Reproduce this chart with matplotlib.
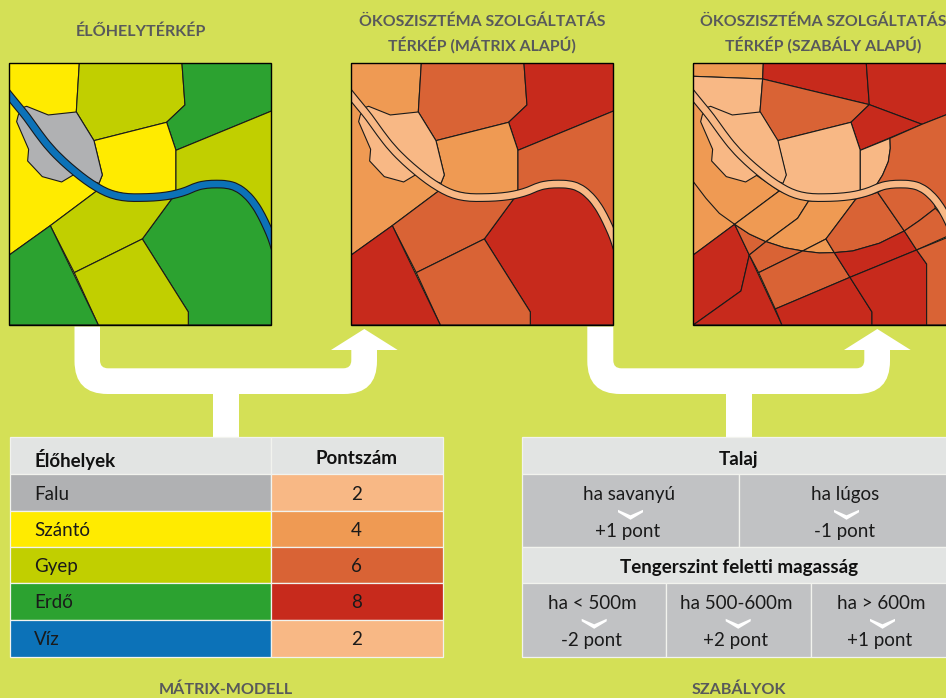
import matplotlib
matplotlib.use("Agg")
import matplotlib.pyplot as plt
from matplotlib.patches import Polygon, Rectangle, PathPatch
from matplotlib.path import Path

# map shapes (3x zoom pixels of each frame)
fields = [
    ("Szántó", [(28, 25), (238, 25), (229, 171), (300, 380), (290, 408), (151, 512), (28, 600)]),
    ("Gyep", [(238, 25), (546, 25), (555, 150), (500, 202), (282, 257), (229, 171)]),
    ("Erdő", [(546, 25), (815, 25), (815, 168), (528, 286), (500, 202), (555, 150)]),
    ("Szántó", [(282, 257), (500, 202), (528, 286), (528, 420), (420, 428), (290, 397), (297, 385), (307, 360)]),
    ("Gyep", [(528, 286), (815, 168), (815, 560), (740, 410), (640, 390), (528, 420)]),
    ("Erdő", [(515, 432), (600, 400), (650, 390), (720, 410), (770, 465), (815, 570), (815, 810), (565, 810), (565, 771), (427, 552)]),
    ("Gyep", [(290, 408), (420, 428), (515, 432), (427, 552), (223, 653), (151, 512)]),
    ("Gyep", [(223, 653), (427, 552), (565, 771), (565, 810), (295, 810)]),
    ("Erdő", [(28, 600), (151, 512), (295, 810), (28, 810)]),
]
village = [(80, 154), (145, 180), (229, 171), (282, 257), (307, 360), (297, 385), (220, 360), (185, 381),
           (127, 365), (83, 318), (86, 283), (50, 200), (55, 180), (68, 158)]
river = [(20, 112), (28, 122), (55, 155), (80, 185), (115, 235), (150, 280), (190, 320), (225, 350), (258, 376),
         (290, 397), (320, 413), (350, 423), (385, 428), (420, 428), (460, 427), (500, 423), (530, 417), (560, 408),
         (590, 394), (620, 388), (650, 387), (680, 388), (710, 396), (740, 418), (765, 448), (785, 482),
         (802, 518), (815, 548), (825, 580)]

rule_fields = [
    (4, [(22, 25), (232, 25), (230, 72), (22, 64)]),
    (8, [(232, 25), (541, 25), (550, 149), (230, 72)]),
    (8, [(541, 25), (815, 25), (815, 166), (708, 208), (550, 149)]),
    (2, [(22, 64), (230, 72), (222, 171), (290, 385), (100, 210), (22, 122)]),
    (6, [(230, 72), (550, 149), (495, 202), (275, 257), (222, 171)]),
    (8, [(550, 149), (708, 208), (523, 286), (495, 202)]),
    (2, [(275, 257), (495, 202), (523, 286), (523, 415), (370, 428), (280, 400), (300, 360)]),
    (2, [(523, 286), (612, 250), (613, 280), (607, 320), (590, 360), (570, 392), (523, 415)]),
    (6, [(612, 250), (708, 208), (815, 166), (815, 560), (740, 418), (680, 388), (620, 388), (570, 392), (590, 360), (607, 320), (613, 280)]),
    (4, [(22, 130), (100, 225), (210, 360), (280, 408), (146, 508), (22, 600)]),
    (8, [(22, 600), (146, 508), (190, 600), (165, 708), (22, 810)]),
    (8, [(22, 810), (165, 708), (190, 600), (288, 810)]),
    (6, [(146, 508), (190, 537), (240, 560), (190, 600)]),
    (4, [(146, 508), (280, 408), (368, 438), (335, 490), (240, 560), (190, 537)]),
    (4, [(368, 438), (510, 432), (420, 552), (350, 588), (295, 578), (240, 560), (335, 490)]),
    (4, [(420, 552), (445, 593), (400, 594), (350, 588)]),
    (6, [(190, 600), (240, 560), (295, 578), (350, 588), (218, 653)]),
    (6, [(218, 653), (350, 588), (400, 594), (445, 593), (492, 667), (268, 762)]),
    (8, [(268, 762), (492, 667), (558, 771), (558, 810), (288, 810)]),
    (6, [(510, 432), (575, 412), (655, 528), (580, 565), (500, 588), (445, 593), (420, 552)]),
    (8, [(445, 593), (500, 588), (580, 565), (655, 528), (692, 585), (492, 667)]),
    (8, [(492, 667), (692, 585), (722, 627), (722, 810), (558, 810), (558, 771)]),
    (6, [(575, 412), (620, 388), (680, 388), (740, 418), (748, 460), (700, 497), (655, 528)]),
    (6, [(655, 528), (700, 497), (748, 460), (815, 530), (692, 585)]),
    (6, [(692, 585), (815, 535), (815, 810), (722, 810), (722, 627)]),
]
big_arc = [(22, 380), (60, 430), (100, 475), (146, 508)]

habitats = ["Falu", "Szántó", "Gyep", "Erdő", "Víz"]
scores = [2, 4, 6, 8, 2]
habitat_colors = ["#b0b1b3", "#ffeb00", "#c1cf00", "#2ca230", "#0c72b8"]
score_colors = {2: "#f8b885", 4: "#ef9a53", 6: "#d96335", 8: "#c72a1c"}

map_titles = ["ÉLŐHELYTÉRKÉP", "ÖKOSZISZTÉMA SZOLGÁLTATÁS\nTÉRKÉP (MÁTRIX ALAPÚ)",
              "ÖKOSZISZTÉMA SZOLGÁLTATÁS\nTÉRKÉP (SZABÁLY ALAPÚ)"]
soil_rules = [("ha savanyú", "+1 pont"), ("ha lúgos", "-1 pont")]
height_rules = [("ha < 500m", "-2 pont"), ("ha 500-600m", "+2 pont"), ("ha > 600m", "+1 pont")]

BG = "#d4e056"
GREY = "#58595b"
HEAD = "#e2e4e3"
CELL = "#c1c2c4"
TEXT_SIZE = 13.5
plt.rcParams["font.family"] = ["Lato", "DejaVu Sans"]

fig = plt.figure(figsize=(9.46, 6.98), dpi=100, facecolor=BG)
ax = fig.add_axes([0, 0, 1, 1])
ax.set_xlim(0, 946)
ax.set_ylim(698, 0)
ax.axis("off")

FRAME_Y = 63.3
FRAME_SIZE = 262


def to_px(points, left, origin):
    return [(left + (x - origin) / 3, FRAME_Y + (y - 25) / 3) for x, y in points]


def smooth_line(xy, color, w, frame, z=2):
    # read points act as control points of quadratic curves
    verts = [xy[0]]
    codes = [Path.MOVETO]
    for a, b in zip(xy[1:-1], xy[2:]):
        verts += [a, ((a[0] + b[0]) / 2, (a[1] + b[1]) / 2)]
        codes += [Path.CURVE3, Path.CURVE3]
    verts.append(xy[-1])
    codes.append(Path.LINETO)
    p = PathPatch(Path(verts, codes), fc="none", ec=color, lw=w, zorder=z, capstyle="butt", joinstyle="round")
    ax.add_patch(p)
    p.set_clip_path(frame)


def draw_map(left, shapes, origin, village_color, river_color):
    frame = Rectangle((left, FRAME_Y), FRAME_SIZE, FRAME_SIZE, fc="none", ec="none")
    ax.add_patch(frame)
    for color, pts in shapes:
        p = Polygon(to_px(pts, left, origin), fc=color, ec="#1a1a1a", lw=0.8, joinstyle="round")
        ax.add_patch(p)
        p.set_clip_path(frame)
    p = Polygon(to_px(village, left, 28), fc=village_color, ec="#1a1a1a", lw=0.8, joinstyle="round", zorder=1.8)
    ax.add_patch(p)
    xy = to_px(river, left, 28)
    smooth_line(xy, "#1a1a1a", 6.3, frame, 2)
    smooth_line(xy, river_color, 4.7, frame, 2.1)
    return frame


def draw_frame(left):
    ax.add_patch(Rectangle((left, FRAME_Y), FRAME_SIZE, FRAME_SIZE, fc="none", ec="black", lw=1.0, zorder=5))


hab_color = dict(zip(habitats, habitat_colors))
hab_score = dict(zip(habitats, scores))

map_left = [9.3, 351.3, 693.3]
draw_map(map_left[0], [(hab_color[h], pts) for h, pts in fields], 28, hab_color["Falu"], hab_color["Víz"])
draw_map(map_left[1], [(score_colors[hab_score[h]], pts) for h, pts in fields], 28,
         score_colors[hab_score["Falu"]], score_colors[hab_score["Víz"]])
frame3 = draw_map(map_left[2], [(score_colors[s], pts) for s, pts in rule_fields], 22,
                  score_colors[2], score_colors[2])
arc = to_px(big_arc, map_left[2], 22)
arc_line, = ax.plot([a for a, b in arc], [b for a, b in arc], color="#1a1a1a", lw=0.8, zorder=1.5)
arc_line.set_clip_path(frame3)
for left in map_left:
    draw_frame(left)


def connector(x0, x1, x2, x3, head0, head1, tip, top_from, stem_left):
    # white U shaped band with arrow head and a stem coming up from the table
    y_top, y_bot = 368.3, 394
    r_out, r_in = 33, 8
    verts = [(x0, top_from), (x1, top_from), (x1, y_top - r_in), (x1, y_top), (x1 + r_in, y_top),
             (x2 - r_in, y_top), (x2, y_top), (x2, y_top - r_in), (x2, 350), (head0, 350), (tip, 329), (head1, 350),
             (x3, 350), (x3, y_bot - r_out), (x3, y_bot), (x3 - r_out, y_bot),
             (stem_left + 26, y_bot), (stem_left + 26, 437.5), (stem_left, 437.5), (stem_left, y_bot),
             (x0 + r_out, y_bot), (x0, y_bot), (x0, y_bot - r_out), (x0, top_from)]
    L, Q = Path.LINETO, Path.CURVE3
    codes = [Path.MOVETO, L, L, Q, Q, L, Q, Q, L, L, L, L, L, L, Q, Q, L, L, L, L, L, Q, Q, L]
    ax.add_patch(PathPatch(Path(verts, codes), fc="white", ec="none", zorder=3))


connector(74.5, 100, 351.3, 377, 331, 397.7, 364.3, 326.5, 213)
connector(587.3, 613.3, 864.3, 890, 844, 910.7, 877.3, 326.5, 726)

# titles
ax.text(140.5, 32, map_titles[0], ha="center", va="center", color=GREY, fontsize=11.6, fontweight="bold")
for x, title in zip((482, 823), map_titles[1:]):
    ax.text(x, 34, title, ha="center", va="center", color=GREY, fontsize=11.4, fontweight="bold",
            linespacing=1.5)
ax.text(226, 690, "MÁTRIX-MODELL", ha="center", va="center", color=GREY, fontsize=11.6, fontweight="bold")
ax.text(738.7, 690, "SZABÁLYOK", ha="center", va="center", color=GREY, fontsize=11.6, fontweight="bold")

# left table
row_y = [437.3, 474.3, 510.7, 546.7, 583.3, 619.7, 656.7]
col_x = [9.5, 271.3, 442.5]


def cell(x0, x1, y0, y1, color):
    ax.add_patch(Rectangle((x0, y0), x1 - x0, y1 - y0, fc=color, ec="#f2f3ee", lw=0.9, zorder=3))


cell(col_x[0], col_x[1], row_y[0], row_y[1], HEAD)
cell(col_x[1], col_x[2], row_y[0], row_y[1], HEAD)
ax.text(34, 459, "Élőhelyek", va="center", fontsize=TEXT_SIZE, fontweight="bold", color="#111111", zorder=4)
ax.text(356.7, 459, "Pontszám", ha="center", va="center", fontsize=TEXT_SIZE, fontweight="bold", color="#111111", zorder=4)
for i, (name, score, color) in enumerate(zip(habitats, scores, habitat_colors)):
    cell(col_x[0], col_x[1], row_y[i + 1], row_y[i + 2], color)
    cell(col_x[1], col_x[2], row_y[i + 1], row_y[i + 2], score_colors[score])
    ym = (row_y[i + 1] + row_y[i + 2]) / 2 + 1.5
    ax.text(34, ym, name, va="center", fontsize=TEXT_SIZE, color="#1a1a1a", zorder=4)
    ax.text(356.7, ym, str(score), ha="center", va="center", fontsize=TEXT_SIZE, color="#1a1a1a", zorder=4)

# right table
right_x0, right_x1 = 522.3, 955
right_mid = 738.7
splits = [666.3, 810.7]


def chevron(x, y):
    pts = [(x - 12.5, y - 5), (x, y + 0.5), (x + 12.5, y - 5), (x + 12.5, y - 2.5), (x, y + 5), (x - 12.5, y - 2.5)]
    ax.add_patch(Polygon(pts, fc="white", ec="none", zorder=4))


def rule_cell(x0, x1, y0, y1, x, lines):
    cell(x0, x1, y0, y1, CELL)
    ax.text(x, y0 + 20, lines[0], ha="center", va="center", fontsize=TEXT_SIZE, color="#1a1a1a", zorder=4)
    chevron(x + 1.5, y0 + 40.5)
    ax.text(x - 1, y0 + 57, lines[1], ha="center", va="center", fontsize=TEXT_SIZE, color="#1a1a1a", zorder=4)


cell(right_x0, right_x1, row_y[0], row_y[1], HEAD)
ax.text(right_mid, 459, "Talaj", ha="center", va="center", fontsize=TEXT_SIZE, fontweight="bold", color="#111111", zorder=4)
rule_cell(right_x0, right_mid, row_y[1], row_y[3], 629, soil_rules[0])
rule_cell(right_mid, right_x1, row_y[1], row_y[3], 845, soil_rules[1])
cell(right_x0, right_x1, row_y[3], row_y[4], HEAD)
ax.text(right_mid, 567, "Tengerszint feletti magasság", ha="center", va="center", fontsize=TEXT_SIZE,
        fontweight="bold", color="#111111", zorder=4)
rule_cell(right_x0, splits[0], row_y[4], row_y[6], 592.7, height_rules[0])
rule_cell(splits[0], splits[1], row_y[4], row_y[6], 736.7, height_rules[1])
rule_cell(splits[1], right_x1, row_y[4], row_y[6], 881, height_rules[2])

fig.savefig("out.png", dpi=100, facecolor=BG)
